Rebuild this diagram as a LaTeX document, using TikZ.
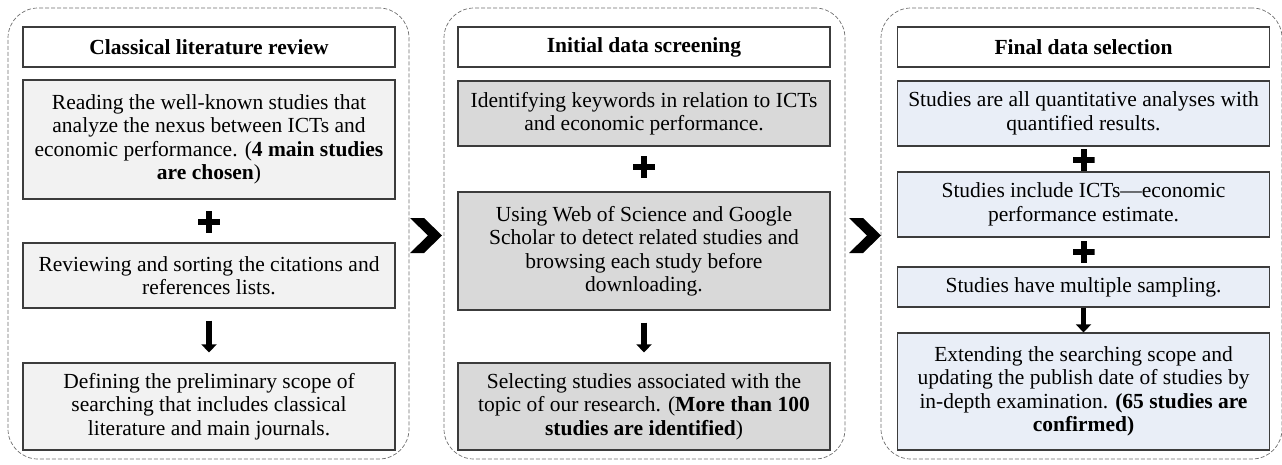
\documentclass[tikz,border=0pt]{standalone}
\usepackage{fontspec}
\setmainfont{Liberation Serif}
\usepackage{xcolor}
\usepackage{tikz}
\usetikzlibrary{arrows.meta}
\definecolor{boxline}{HTML}{3C3C3C}
\definecolor{panelgray}{HTML}{6E6E6E}
\definecolor{gray05}{HTML}{F2F2F2}
\definecolor{gray15}{HTML}{D9D9D9}
\definecolor{blue05}{HTML}{E9EEF7}
\newcommand{\boxfont}{\fontsize{21.5}{23.5}\selectfont}

\begin{document}
\begin{tikzpicture}[x=1pt, y=-1pt,
  panel/.style={draw=panelgray, dash pattern=on 4pt off 2pt, line width=0.7pt, rounded corners=30pt,
                minimum width=401pt, minimum height=451pt, inner sep=0pt},
  box/.style={draw=boxline, line width=1.2pt, align=center, minimum width=372pt, inner sep=0pt, font=\boxfont},
  titlebox/.style={box, fill=white, minimum height=40pt, font=\boxfont\bfseries},
  litbox/.style={box, fill=gray05},
  scrbox/.style={box, fill=gray15},
  selbox/.style={box, fill=blue05},
  plus/.style={minimum size=22pt, inner sep=0pt,
               path picture={\fill ([xshift=-11pt,yshift=-3pt]path picture bounding box.center) rectangle ++(22pt,6pt);
                             \fill ([xshift=-3pt,yshift=-11pt]path picture bounding box.center) rectangle ++(6pt,22pt);}},
  down/.style={-{Triangle[width=15pt,length=8pt]}, line width=5.5pt, black},
  chev/.style={fill=black}
]
\useasboundingbox (0,0) rectangle (1282,464);

% dashed panels
\node[panel] (pan1) at (208.5,233.5) {};
\node[panel] (pan2) at (644.5,233.5) {};
\node[panel] (pan3) at (1081.5,233.5) {};

% classical literature review
\node[titlebox] (t1) at (209,47) {Classical literature review};
\node[litbox, minimum height=119pt] (a1) at (209,139.5) {Reading the well-known studies that\\analyze the nexus between ICTs and\\economic performance. (\textbf{4 main studies}\\\textbf{are chosen})};
\node[plus] (pl1) at (209,222) {};
\node[litbox, minimum height=65pt] (a2) at (209,275.5) {Reviewing and sorting the citations and\\references lists.};
\node[litbox, minimum height=87pt] (a3) at (209,406.5) {Defining the preliminary scope of\\searching that includes classical\\literature and main journals.};
\draw[down, shorten <=12pt, shorten >=10pt] (a2) -- (a3);

% initial data screening
\node[titlebox] (t2) at (644,47) {Initial data screening};
\node[scrbox, minimum height=65pt] (b1) at (644,113.5) {Identifying keywords in relation to ICTs\\and economic performance.};
\node[plus] (pl2) at (644,167) {};
\node[scrbox, minimum height=118pt] (b2) at (644,251) {Using Web of Science and Google\\Scholar to detect related studies and\\browsing each study before\\downloading.};
\node[scrbox, minimum height=87pt] (b3) at (644,406.5) {Selecting studies associated with the\\topic of our research. (\textbf{More than 100}\\\textbf{studies are identified})};
\draw[down, shorten <=12pt, shorten >=10pt] (b2) -- (b3);

% final data selection
\node[titlebox] (t3) at (1083.5,47) {Final data selection};
\node[selbox, minimum height=65pt] (c1) at (1083.5,113.5) {Studies are all quantitative analyses with\\quantified results.};
\node[plus] (pl3) at (1083.5,160) {};
\node[selbox, minimum height=65pt] (c2) at (1083.5,204.5) {Studies include ICTs—economic\\performance estimate.};
\node[plus] (pl4) at (1083.5,252) {};
\node[selbox, minimum height=40pt] (c3) at (1083.5,287) {Studies have multiple sampling.};
\node[selbox, minimum height=117pt] (c4) at (1083.5,391.5) {Extending the searching scope and\\updating the publish date of studies by\\in-depth examination. \textbf{(65 studies are}\\\textbf{confirmed)}};
\draw[down] (c3) -- (c4);

% chevrons between panels
\fill[chev] (410,218) -- (424,218) -- (442,235.5) -- (424,253) -- (410,253) -- (428,235.5) -- cycle;
\fill[chev] (849,218) -- (863,218) -- (881,235.5) -- (863,253) -- (849,253) -- (867,235.5) -- cycle;
\end{tikzpicture}
\end{document}
